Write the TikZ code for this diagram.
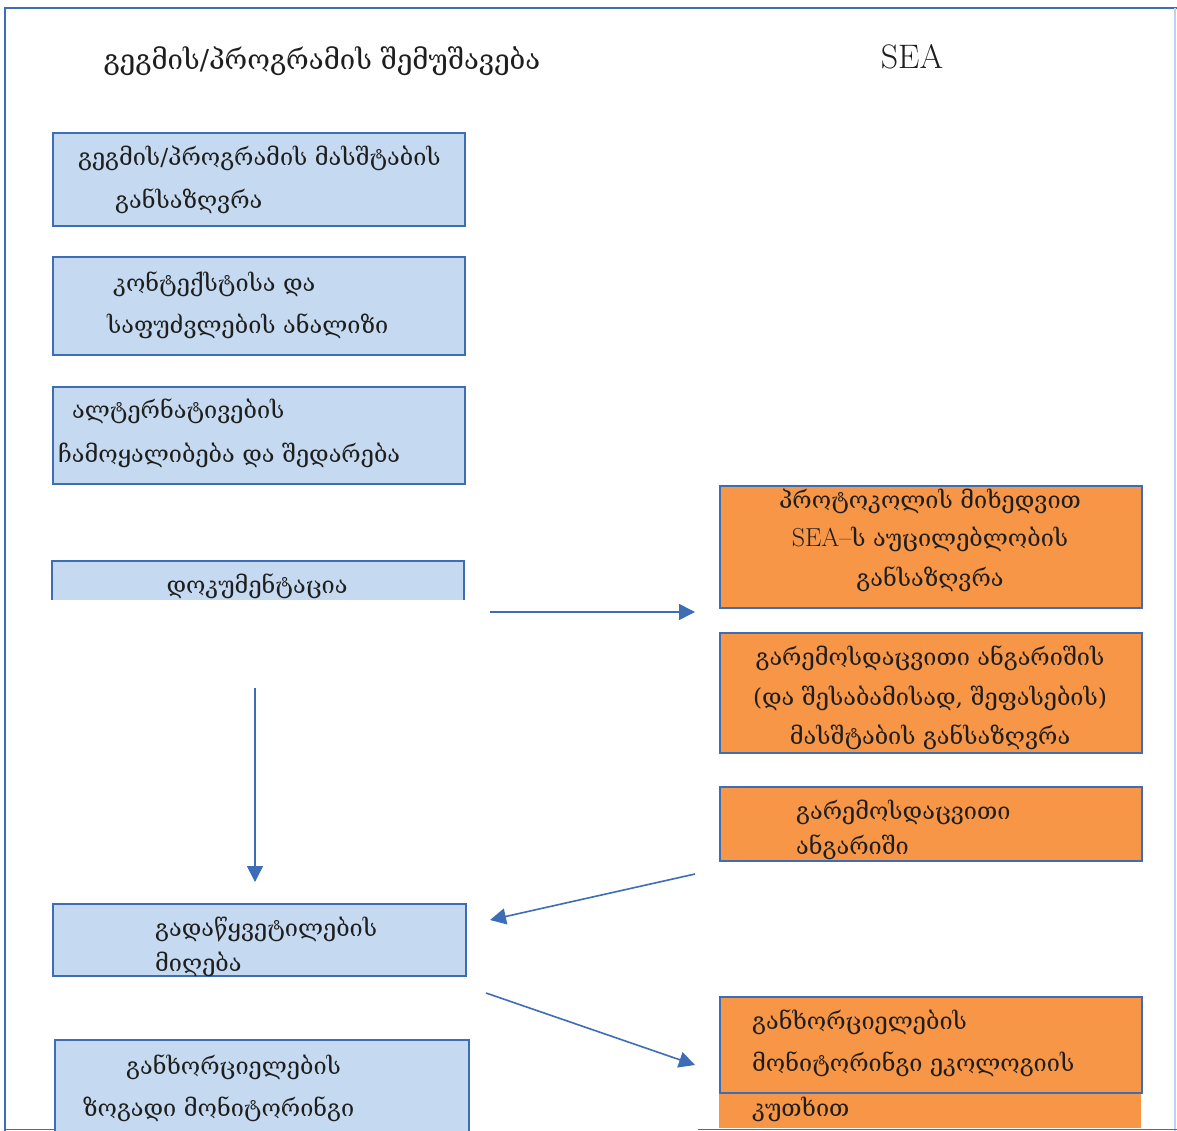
\documentclass[tikz,border=0pt]{standalone}
\usepackage{fontspec}
\newfontfamily\geo{DejaVu Serif}
\usetikzlibrary{arrows.meta}

\definecolor{frameblue}{HTML}{3C6DB5}
\definecolor{edgeblue}{HTML}{BCD3EC}
\definecolor{planfill}{HTML}{C5DAF0}
\definecolor{seafill}{HTML}{F79646}
\definecolor{txt}{HTML}{1E1E1E}

\tikzset{
  planbox/.style={draw=frameblue, fill=planfill, line width=1.8pt, rectangle, inner sep=0pt, anchor=north west},
  seabox/.style={draw=frameblue, fill=seafill, line width=1.8pt, rectangle, inner sep=0pt, anchor=north west},
  boxtext/.style={font=\geo\fontsize{23.5}{28}\selectfont, text=txt, inner sep=0pt, yshift=-6pt},
  centretext/.style={font=\geo\fontsize{23.5}{28}\selectfont, text=txt, inner sep=0pt, yshift=-1pt},
  headtext/.style={font=\geo\fontsize{27.5}{32}\selectfont, text=txt, inner sep=0pt, yshift=-1pt},
  flow/.style={draw=frameblue, line width=1.6pt, -{Triangle[length=16pt,width=16pt]}}
}

\begin{document}
\begin{tikzpicture}[x=1pt, y=-1pt]
\useasboundingbox (0,0) rectangle (1177,1131);
\fill[white] (0,0) rectangle (1177,1131);

% outer frame
\draw[frameblue, line width=1.6pt] (5,1131) -- (5,8) -- (1177,8);
\draw[edgeblue, line width=1.2pt] (1175,8) -- (1175,1131);
\draw[frameblue, line width=1pt] (5,1129.5) -- (56,1129.5);
\draw[frameblue, line width=1pt] (698,1129.5) -- (1177,1129.5);

% column headings
\node[headtext] (hplan) at (322,60) {გეგმის/პროგრამის შემუშავება};
\node[font=\fontsize{34}{40}\selectfont, text=txt, inner sep=0pt] (hsea) at (912,57) {SEA};

% plan / programme column
\node[planbox, minimum width=412pt, minimum height=93pt] (scope) at (52,132) {};
\node[boxtext, anchor=mid west] (scope1) at (78,157) {გეგმის/პროგრამის მასშტაბის};
\node[boxtext, anchor=mid west] (scope2) at (115,200) {განსაზღვრა};

\node[planbox, minimum width=412pt, minimum height=98pt] (context) at (52,256) {};
\node[boxtext, anchor=mid west] (context1) at (113,283) {კონტექსტისა და};
\node[boxtext, anchor=mid west] (context2) at (107,325) {საფუძვლების ანალიზი};

\node[planbox, minimum width=412pt, minimum height=97pt] (alts) at (52,386) {};
\node[boxtext, anchor=mid west] (alts1) at (72,410) {ალტერნატივების};
\node[boxtext, anchor=mid west] (alts2) at (58,454) {ჩამოყალიბება და შედარება};

% documentation box, cut off at its lower edge
\fill[planfill] (52,561) rectangle (464,600);
\draw[frameblue, line width=1.8pt] (52,600) -- (52,561) -- (464,561) -- (464,600);
\begin{scope}
  \clip (52,561) rectangle (464,600);
  \node[centretext] (docs) at (257,585) {დოკუმენტაცია};
\end{scope}

\node[planbox, minimum width=413pt, minimum height=72pt] (decide) at (52,903) {};
\node[boxtext, anchor=mid west] (decide1) at (155,928) {გადაწყვეტილების};
\node[boxtext, anchor=mid west] (decide2) at (155,963) {მიღება};

% general monitoring box, running off the bottom
\fill[planfill] (55,1040) rectangle (469,1131);
\draw[frameblue, line width=1.8pt] (55,1131) -- (55,1040) -- (469,1040) -- (469,1131);
\node[boxtext, anchor=mid west] (genmon1) at (126,1066) {განხორციელების};
\node[boxtext, anchor=mid west] (genmon2) at (83,1108) {ზოგადი მონიტორინგი};

% SEA column
\node[seabox, minimum width=422pt, minimum height=122pt] (need) at (719,485) {};
\node[centretext] (need1) at (930,500) {პროტოკოლის მიხედვით};
\node[centretext] (need2) at (930,538) {{\rmfamily\fontsize{26}{30}\selectfont SEA–}ს აუცილებლობის};
\node[centretext] (need3) at (930,578) {განსაზღვრა};

\node[seabox, minimum width=422pt, minimum height=120pt] (extent) at (719,632) {};
\node[centretext] (extent1) at (930,657) {გარემოსდაცვითი ანგარიშის};
\node[centretext] (extent2) at (930,697) {(და შესაბამისად, შეფასების)};
\node[centretext] (extent3) at (930,736) {მასშტაბის განსაზღვრა};

\node[seabox, minimum width=422pt, minimum height=74pt] (report) at (719,786) {};
\node[boxtext, anchor=mid west] (report1) at (796,811) {გარემოსდაცვითი};
\node[boxtext, anchor=mid west] (report2) at (796,846) {ანგარიში};

\fill[seafill] (719,1092) rectangle (1141,1128);
\node[seabox, minimum width=422pt, minimum height=96pt] (ecomon) at (719,996) {};
\node[boxtext, anchor=mid west] (ecomon1) at (752,1021) {განხორციელების};
\node[boxtext, anchor=mid west] (ecomon2) at (752,1063) {მონიტორინგი ეკოლოგიის};
\node[boxtext, anchor=mid west] (ecomon3) at (752,1108) {კუთხით};

% connector end points
\coordinate (docsout) at (490,612);
\coordinate (needin) at (695,612);
\coordinate (flowtop) at (255,688);
\coordinate (decidein) at (255,882);
\coordinate (reportout) at (695,874);
\coordinate (decideright) at (490,920);
\coordinate (decideout) at (486,993);
\coordinate (ecomonin) at (695,1065);

\draw[flow] (docsout) -- (needin);
\draw[flow] (flowtop) -- (decidein);
\draw[flow] (reportout) -- (decideright);
\draw[flow] (decideout) -- (ecomonin);
\end{tikzpicture}
\end{document}
